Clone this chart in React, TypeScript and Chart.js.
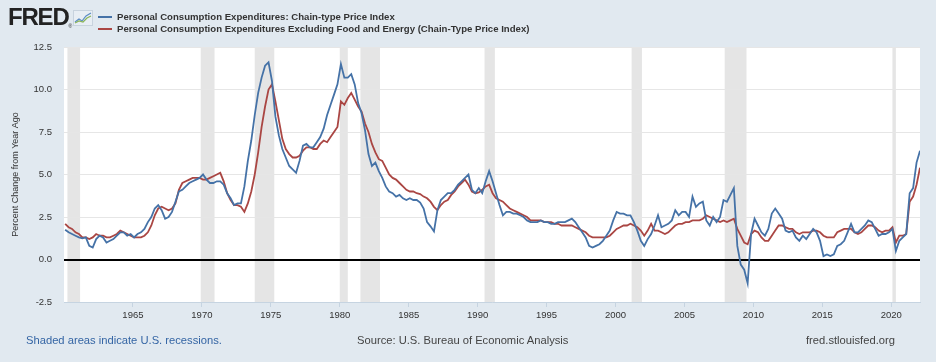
import React, { useEffect, useRef } from "react";
import { Chart, registerables } from "chart.js";

Chart.register(...registerables);

const seriesNames = [
  "Personal Consumption Expenditures: Chain-type Price Index",
  "Personal Consumption Expenditures Excluding Food and Energy (Chain-Type Price Index)",
];
const seriesColors = ["#4572A7", "#AA4643"];

// quarterly samples (mid-quarter months), from 1960 to Feb 2022
const firstYear = 1960;
const quarterMonths = [2, 5, 8, 11];

const headline = [
  1.75, 1.6, 1.5, 1.4,
  1.3, 1.25, 1.3, 0.8,
  0.7, 1.2, 1.4, 1.3,
  1.0, 1.1, 1.2, 1.4,
  1.6, 1.6, 1.4, 1.5,
  1.3, 1.5, 1.6, 1.8,
  2.2, 2.5, 3.0, 3.2,
  2.9, 2.4, 2.5, 2.8,
  3.4, 4.0, 4.1, 4.3,
  4.5, 4.6, 4.7, 4.8,
  5.0, 4.7, 4.5, 4.5,
  4.6, 4.6, 4.4, 3.9,
  3.6, 3.2, 3.3, 3.3,
  4.3, 5.8, 7.0, 8.5,
  9.8, 10.7, 11.4, 11.6,
  10.5, 8.4, 7.3, 6.5,
  6.0, 5.5, 5.3, 5.1,
  5.8, 6.7, 6.8, 6.6,
  6.6, 6.9, 7.2, 7.7,
  8.5, 9.1, 9.7, 10.3,
  11.5, 10.7, 10.7, 10.9,
  10.3, 9.2, 8.6, 7.6,
  6.2, 5.5, 5.7, 5.2,
  4.8, 4.3, 4.0, 3.9,
  3.7, 3.8, 3.6, 3.5,
  3.6, 3.5, 3.5, 3.35,
  3.0, 2.2, 1.95, 1.65,
  2.9, 3.5, 3.7, 3.9,
  3.9, 4.1, 4.4, 4.6,
  4.8, 5.0, 4.1, 3.9,
  4.2, 3.9, 4.6, 5.2,
  4.6, 3.9, 3.2, 2.6,
  2.8, 2.8, 2.7, 2.7,
  2.6, 2.5, 2.3, 2.2,
  2.2, 2.2, 2.3, 2.2,
  2.2, 2.1, 2.1, 2.2,
  2.2, 2.2, 2.3, 2.4,
  2.2, 1.9, 1.6, 1.3,
  0.8, 0.7, 0.8, 0.9,
  1.1, 1.4, 1.7, 2.3,
  2.8, 2.7, 2.7, 2.6,
  2.6, 2.2, 1.7, 1.1,
  0.8, 1.2, 1.5, 2.0,
  2.6, 1.9, 2.0, 2.1,
  2.3, 2.9, 2.6, 2.8,
  2.8, 2.5, 3.7, 3.1,
  3.3, 3.4, 2.3, 2.0,
  2.5, 2.2, 2.5, 3.5,
  3.4, 3.8, 4.2, 0.8,
  -0.3, -0.6, -1.4, 1.5,
  2.4, 2.0, 1.6, 1.4,
  1.8, 2.7, 3.0, 2.7,
  2.4, 1.7, 1.6, 1.7,
  1.3, 1.1, 1.4, 1.2,
  1.5, 1.8, 1.6, 1.1,
  0.2, 0.3, 0.2, 0.3,
  0.8, 0.9, 1.1, 1.6,
  2.1, 1.6, 1.6, 1.8,
  2.0, 2.3, 2.2, 1.8,
  1.4, 1.5, 1.5, 1.6,
  1.8, 0.5, 1.1, 1.3,
  1.5, 3.9, 4.2, 5.7,
  6.4,
];

const core = [
  2.1, 1.9, 1.8, 1.6,
  1.5, 1.3, 1.3, 1.2,
  1.3, 1.5, 1.4, 1.4,
  1.3, 1.3, 1.4, 1.5,
  1.7, 1.6, 1.5, 1.4,
  1.3, 1.3, 1.3, 1.4,
  1.6, 2.0, 2.6, 3.0,
  3.1, 3.0, 2.9, 3.0,
  3.3, 4.1, 4.5, 4.6,
  4.7, 4.8, 4.8, 4.8,
  4.7, 4.7, 4.8, 4.9,
  5.0, 5.1, 4.6, 3.9,
  3.5, 3.2, 3.2, 3.1,
  2.8, 3.3, 4.0, 5.0,
  6.3, 7.8, 9.0, 10.0,
  10.3, 9.3, 8.2, 7.1,
  6.5, 6.2, 6.0, 6.0,
  6.1, 6.4, 6.6, 6.6,
  6.5, 6.5, 6.8, 7.0,
  6.9, 7.2, 7.5, 7.8,
  9.3, 9.1, 9.5, 9.8,
  9.4, 9.0, 8.7, 8.0,
  7.5, 6.8, 6.3, 5.9,
  5.8, 5.4, 5.0, 4.8,
  4.7, 4.5, 4.3, 4.1,
  4.0, 4.0, 3.9, 3.85,
  3.7, 3.6, 3.4, 3.1,
  2.9, 3.2, 3.4, 3.5,
  3.8, 4.0, 4.3, 4.5,
  4.7, 4.4, 4.0, 3.9,
  3.95, 4.1, 4.3, 4.4,
  3.9, 3.6, 3.5, 3.4,
  3.2, 3.0, 2.9, 2.8,
  2.7, 2.6, 2.5, 2.3,
  2.3, 2.3, 2.3, 2.2,
  2.2, 2.2, 2.1, 2.1,
  2.0, 2.0, 2.0, 2.0,
  1.9, 1.8, 1.7, 1.6,
  1.4, 1.3, 1.3, 1.3,
  1.3, 1.3, 1.4, 1.6,
  1.8, 1.9, 2.0, 2.0,
  2.1, 2.0, 1.9, 1.7,
  1.4, 1.7, 2.1, 1.7,
  1.7, 1.6, 1.5, 1.6,
  1.8, 2.0, 2.1, 2.1,
  2.2, 2.2, 2.3, 2.3,
  2.3, 2.4, 2.6, 2.5,
  2.4, 2.3, 2.2, 2.3,
  2.2, 2.3, 2.4, 1.8,
  1.4, 1.0, 0.9, 1.5,
  1.7, 1.6, 1.3, 1.1,
  1.1, 1.4, 1.7, 2.0,
  2.0, 1.9, 1.8, 1.8,
  1.6, 1.5, 1.6, 1.6,
  1.6, 1.7, 1.7, 1.6,
  1.4, 1.3, 1.3, 1.3,
  1.6, 1.7, 1.8, 1.8,
  1.8, 1.6, 1.5, 1.6,
  1.8, 2.0, 2.0, 1.9,
  1.7, 1.6, 1.7, 1.7,
  1.9, 1.0, 1.4, 1.4,
  1.5, 3.4, 3.7, 4.4,
  5.4,
];

const recessionStarts = ["1960-04", "1969-12", "1973-11", "1980-01", "1981-07", "1990-07", "2001-03", "2007-12", "2020-02"];
const recessionEnds = ["1961-02", "1970-11", "1975-03", "1980-07", "1982-11", "1991-03", "2001-11", "2009-06", "2020-04"];

const xTickYears = [1965, 1970, 1975, 1980, 1985, 1990, 1995, 2000, 2005, 2010, 2015, 2020];
const yTickValues = [-2.5, 0, 2.5, 5, 7.5, 10, 12.5];
const xStart = "1960-01";
const xEnd = "2022-02";

const toDecimal = (ym: string, endOfMonth = false) => {
  const [y, m] = ym.split("-").map(Number);
  return y + (m - 1 + (endOfMonth ? 1 : 0)) / 12;
};

const sampleX = headline.map((_, i) => firstYear + Math.floor(i / 4) + (quarterMonths[i % 4] - 1) / 12);

const FONT = "'Liberation Sans', Arial, Helvetica, sans-serif";

const bgPlugin = {
  id: "fredBackground",
  beforeDraw(chart: any) {
    const { ctx, chartArea, scales } = chart;
    ctx.save();
    ctx.fillStyle = "#ffffff";
    ctx.fillRect(chartArea.left, chartArea.top, chartArea.right - chartArea.left, chartArea.bottom - chartArea.top);
    ctx.fillStyle = "#E5E5E5";
    recessionStarts.forEach((s, i) => {
      const x0 = scales.x.getPixelForValue(toDecimal(s));
      const x1 = scales.x.getPixelForValue(toDecimal(recessionEnds[i], true));
      ctx.fillRect(x0, chartArea.top, x1 - x0, chartArea.bottom - chartArea.top);
    });
    ctx.restore();
  },
};

function FredLogo() {
  return (
    <div style={{ position: "absolute", left: 8, top: 5, display: "flex", alignItems: "flex-start" }}>
      <span style={{ fontFamily: FONT, fontWeight: 900, fontSize: 24, letterSpacing: -1.2, color: "#222", lineHeight: "24px" }}>FRED</span>
      <span style={{ fontFamily: FONT, fontSize: 5, color: "#222", marginTop: 18 }}>®</span>
      <svg width="20" height="16" viewBox="0 0 20 16" style={{ marginLeft: 1, marginTop: 5 }}>
        <rect x="0.5" y="0.5" width="19" height="15" fill="#e8eef4" stroke="#c8d3de" />
        <polyline points="2,12 6,9 9,11 13,6 18,3" fill="none" stroke="#5b8cc4" strokeWidth="1.2" />
        <polyline points="2,13 6,11 10,12 14,8 18,6" fill="none" stroke="#8ab55a" strokeWidth="1.2" />
      </svg>
    </div>
  );
}

export default function App() {
  const canvasRef = useRef<HTMLCanvasElement | null>(null);

  useEffect(() => {
    if (!canvasRef.current) return;
    const chart = new Chart(canvasRef.current, {
      type: "line",
      data: {
        datasets: [headline, core].map((vals, k) => ({
          label: seriesNames[k],
          data: vals.map((v, i) => ({ x: sampleX[i], y: v })),
          borderColor: seriesColors[k],
          backgroundColor: seriesColors[k],
          borderWidth: 1.8,
          pointRadius: 0,
          tension: 0,
          fill: false,
        })),
      },
      options: {
        animation: false,
        responsive: false,
        maintainAspectRatio: false,
        layout: { padding: { left: 0, right: 16, top: 47, bottom: 0 } },
        plugins: { legend: { display: false }, tooltip: { enabled: false } },
        scales: {
          x: {
            type: "linear",
            min: toDecimal(xStart),
            max: toDecimal(xEnd),
            afterBuildTicks: (s: any) => {
              s.ticks = xTickYears.map((v) => ({ value: v }));
            },
            afterFit: (s: any) => {
              s.height = 60;
            },
            grid: { drawOnChartArea: false, tickLength: 5, color: "#C6D4E1" },
            border: { color: "#C6D4E1" },
            ticks: {
              maxRotation: 0,
              autoSkip: false,
              padding: 3,
              color: "#333333",
              font: { family: FONT, size: 9.5 },
              callback: (v: any) => String(v),
            },
          },
          y: {
            min: -2.5,
            max: 12.5,
            afterBuildTicks: (s: any) => {
              s.ticks = yTickValues.map((v) => ({ value: v }));
            },
            afterFit: (s: any) => {
              s.width = 64;
            },
            grid: {
              drawTicks: false,
              color: (c: any) => (c.tick && c.tick.value === 0 ? "#000000" : "#E6E6E6"),
              lineWidth: (c: any) => (c.tick && c.tick.value === 0 ? 2 : 1),
            },
            border: { display: false },
            ticks: {
              padding: 12,
              color: "#333333",
              font: { family: FONT, size: 9.5 },
              callback: (v: any) => Number(v).toFixed(1),
            },
            title: {
              display: true,
              text: "Percent Change from Year Ago",
              color: "#333333",
              font: { family: FONT, size: 9 },
              padding: { top: 10, bottom: 0 },
            },
          },
        },
      },
      plugins: [bgPlugin],
    });
    return () => chart.destroy();
  }, []);

  const legendText: React.CSSProperties = {
    fontFamily: FONT,
    fontSize: 9.6,
    fontWeight: 700,
    color: "#333",
    whiteSpace: "nowrap",
    lineHeight: "12px",
  };

  return (
    <div style={{ position: "fixed", left: 0, top: 0, width: 936, height: 362, background: "#E1E9F0", overflow: "hidden" }}>
      <canvas ref={canvasRef} width={936} height={362} style={{ position: "absolute", left: 0, top: 0, width: 936, height: 362 }} />
      <FredLogo />
      <div style={{ position: "absolute", left: 98, top: 11 }}>
        {seriesNames.map((n, k) => (
          <div key={k} style={{ display: "flex", alignItems: "center" }}>
            <span style={{ display: "inline-block", width: 14, height: 2, background: seriesColors[k], marginRight: 5 }} />
            <span style={legendText}>{n}</span>
          </div>
        ))}
      </div>
      <div style={{ position: "absolute", left: 26, top: 334, fontFamily: FONT, fontSize: 11.2, color: "#3465A4", whiteSpace: "nowrap" }}>
        Shaded areas indicate U.S. recessions.
      </div>
      <div style={{ position: "absolute", left: 357, top: 334, fontFamily: FONT, fontSize: 11.2, color: "#444", whiteSpace: "nowrap" }}>
        Source: U.S. Bureau of Economic Analysis
      </div>
      <div style={{ position: "absolute", left: 806, top: 334, fontFamily: FONT, fontSize: 11.2, color: "#444", whiteSpace: "nowrap" }}>
        fred.stlouisfed.org
      </div>
    </div>
  );
}
